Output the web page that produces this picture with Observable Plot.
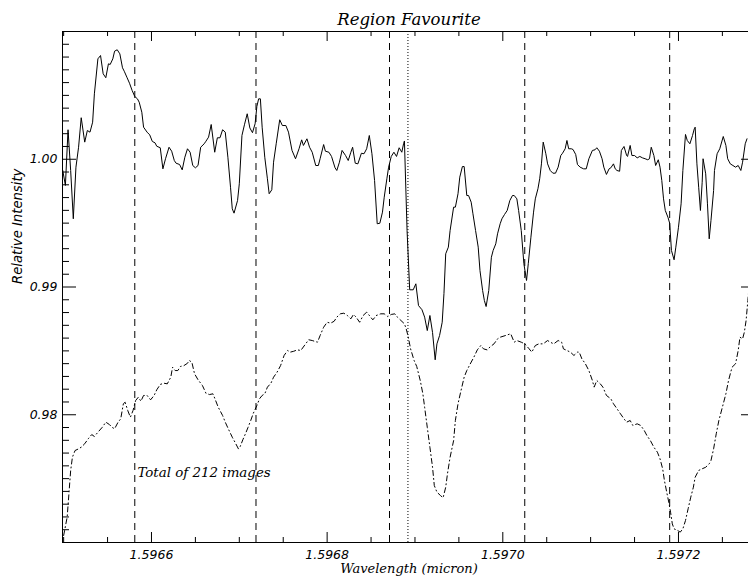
<!DOCTYPE html>
<html><head><meta charset="utf-8">
<script src="https://cdn.jsdelivr.net/npm/d3@7"></script>
<script src="https://cdn.jsdelivr.net/npm/@observablehq/plot@0.6"></script>
<style>html,body{margin:0;padding:0;background:#fff;overflow:hidden}</style>
</head><body><div id="chart"></div>
<script>
// Observed spectrum (solid line)
const solidWave = [1.596499,1.596502,1.596505,1.596508,1.596511,1.596514,1.596517,1.596520,1.596524,1.596527,1.596530,1.596533,1.596535,1.596539,1.596542,1.596545,1.596548,1.596551,1.596553,1.596556,1.596558,1.596561,1.596564,1.596567,1.596569,1.596572,1.596575,1.596578,1.596581,1.596584,1.596586,1.596589,1.596591,1.596595,1.596598,1.596601,1.596604,1.596606,1.596610,1.596613,1.596616,1.596620,1.596623,1.596626,1.596628,1.596632,1.596635,1.596638,1.596641,1.596644,1.596647,1.596650,1.596653,1.596656,1.596660,1.596662,1.596665,1.596668,1.596672,1.596675,1.596678,1.596681,1.596684,1.596687,1.596690,1.596692,1.596694,1.596698,1.596700,1.596703,1.596706,1.596709,1.596712,1.596715,1.596718,1.596720,1.596722,1.596724,1.596726,1.596729,1.596732,1.596734,1.596737,1.596739,1.596742,1.596746,1.596749,1.596753,1.596756,1.596760,1.596764,1.596768,1.596771,1.596773,1.596777,1.596780,1.596783,1.596787,1.596790,1.596792,1.596796,1.596798,1.596802,1.596805,1.596809,1.596811,1.596814,1.596817,1.596821,1.596824,1.596827,1.596829,1.596832,1.596835,1.596839,1.596842,1.596845,1.596848,1.596851,1.596854,1.596857,1.596860,1.596863,1.596865,1.596868,1.596870,1.596873,1.596876,1.596879,1.596882,1.596885,1.596887,1.596888,1.596891,1.596894,1.596898,1.596901,1.596904,1.596908,1.596911,1.596914,1.596917,1.596920,1.596923,1.596925,1.596928,1.596931,1.596933,1.596935,1.596938,1.596940,1.596944,1.596946,1.596949,1.596951,1.596954,1.596956,1.596959,1.596961,1.596964,1.596966,1.596969,1.596972,1.596974,1.596977,1.596979,1.596981,1.596984,1.596987,1.596989,1.596992,1.596994,1.596997,1.596999,1.597002,1.597005,1.597008,1.597011,1.597013,1.597016,1.597018,1.597021,1.597024,1.597027,1.597029,1.597032,1.597035,1.597037,1.597040,1.597042,1.597044,1.597046,1.597049,1.597051,1.597054,1.597057,1.597060,1.597063,1.597066,1.597068,1.597071,1.597073,1.597075,1.597078,1.597080,1.597083,1.597085,1.597088,1.597092,1.597095,1.597098,1.597102,1.597105,1.597107,1.597110,1.597113,1.597115,1.597118,1.597121,1.597123,1.597126,1.597128,1.597130,1.597133,1.597135,1.597138,1.597141,1.597142,1.597145,1.597147,1.597150,1.597153,1.597156,1.597159,1.597162,1.597165,1.597167,1.597169,1.597172,1.597174,1.597177,1.597179,1.597181,1.597183,1.597185,1.597188,1.597190,1.597192,1.597195,1.597197,1.597200,1.597203,1.597205,1.597208,1.597210,1.597213,1.597216,1.597218,1.597219,1.597221,1.597223,1.597225,1.597227,1.597228,1.597231,1.597233,1.597235,1.597237,1.597240,1.597241,1.597244,1.597247,1.597251,1.597254,1.597256,1.597259,1.597262,1.597265,1.597268,1.597271,1.597273,1.597276,1.597278];
const solidInten = [0.99912,0.99795,1.00231,0.99912,0.99534,0.99938,1.00094,1.00325,1.00134,1.00225,1.00212,1.00290,1.00512,1.00786,1.00812,1.00669,1.00638,1.00747,1.00742,1.00786,1.00846,1.00857,1.00825,1.00716,1.00689,1.00642,1.00595,1.00538,1.00491,1.00473,1.00447,1.00368,1.00251,1.00212,1.00191,1.00139,1.00129,1.00102,1.00090,0.99925,1.00004,1.00094,1.00063,0.99990,0.99969,0.99959,0.99917,1.00016,1.00082,1.00055,0.99951,0.99933,0.99951,1.00094,1.00121,1.00141,1.00173,1.00272,1.00055,1.00168,1.00168,1.00231,1.00212,1.00016,0.99781,0.99612,0.99578,0.99677,0.99808,1.00186,1.00274,1.00356,1.00245,1.00208,1.00278,1.00413,1.00473,1.00473,1.00251,1.00016,0.99847,0.99730,0.99761,0.99977,1.00121,1.00309,1.00264,1.00264,1.00212,1.00069,1.00004,1.00082,1.00152,1.00108,1.00160,1.00094,1.00055,0.99951,0.99951,1.00004,1.00115,1.00063,1.00055,1.00022,0.99933,0.99912,0.99977,1.00069,1.00029,0.99990,1.00055,1.00094,0.99969,0.99964,1.00047,1.00043,1.00082,1.00186,1.00043,0.99834,0.99495,0.99499,0.99586,0.99703,0.99847,0.99938,1.00022,1.00055,1.00022,1.00090,1.00055,1.00121,1.00143,0.99442,0.98978,0.98978,0.99025,0.98855,0.98822,0.98764,0.98659,0.98777,0.98644,0.98430,0.98555,0.98620,0.98724,0.98949,0.99260,0.99312,0.99442,0.99625,0.99625,0.99730,0.99860,0.99943,0.99943,0.99716,0.99716,0.99664,0.99573,0.99442,0.99312,0.99129,0.98973,0.98894,0.98847,0.98973,0.99233,0.99286,0.99338,0.99416,0.99495,0.99534,0.99568,0.99599,0.99677,0.99716,0.99716,0.99690,0.99599,0.99442,0.99182,0.99051,0.99182,0.99390,0.99586,0.99690,0.99769,0.99847,0.99964,1.00134,1.00043,0.99964,0.99912,0.99891,0.99891,0.99938,1.00029,1.00047,1.00082,1.00147,1.00082,1.00082,1.00076,1.00037,0.99959,0.99938,0.99925,0.99925,1.00004,1.00069,1.00074,1.00090,1.00063,1.00004,0.99938,0.99881,0.99925,0.99933,0.99964,0.99925,0.99912,0.99906,1.00069,1.00100,1.00029,1.00022,1.00108,1.00029,1.00029,1.00011,1.00022,1.00011,1.00004,0.99996,1.00004,1.00094,1.00029,0.99951,0.99996,0.99938,0.99834,0.99690,0.99599,0.99546,0.99499,0.99286,0.99213,0.99312,0.99468,0.99651,0.99912,1.00194,1.00147,1.00121,1.00186,1.00238,1.00251,0.99964,0.99781,0.99599,0.99820,1.00004,0.99886,0.99651,0.99377,0.99521,0.99755,0.99912,1.00043,1.00082,1.00178,1.00108,1.00004,0.99964,0.99951,0.99938,0.99951,0.99912,0.99977,1.00121,1.00160];
// Mean spectrum (dash-dot line)
const meanWave = [1.596500,1.596504,1.596506,1.596508,1.596510,1.596513,1.596517,1.596520,1.596524,1.596528,1.596532,1.596535,1.596539,1.596544,1.596548,1.596552,1.596555,1.596558,1.596562,1.596565,1.596568,1.596570,1.596573,1.596576,1.596579,1.596582,1.596585,1.596588,1.596591,1.596595,1.596599,1.596603,1.596606,1.596610,1.596614,1.596618,1.596622,1.596624,1.596627,1.596630,1.596633,1.596637,1.596641,1.596643,1.596646,1.596649,1.596653,1.596658,1.596662,1.596666,1.596670,1.596673,1.596676,1.596681,1.596684,1.596688,1.596692,1.596696,1.596699,1.596701,1.596704,1.596707,1.596710,1.596713,1.596716,1.596720,1.596723,1.596726,1.596729,1.596732,1.596736,1.596739,1.596743,1.596747,1.596751,1.596755,1.596758,1.596762,1.596766,1.596770,1.596775,1.596779,1.596783,1.596789,1.596792,1.596796,1.596800,1.596804,1.596808,1.596811,1.596815,1.596819,1.596823,1.596827,1.596830,1.596833,1.596837,1.596841,1.596845,1.596849,1.596852,1.596856,1.596861,1.596865,1.596869,1.596873,1.596877,1.596880,1.596884,1.596888,1.596890,1.596892,1.596895,1.596899,1.596902,1.596906,1.596909,1.596911,1.596914,1.596917,1.596920,1.596922,1.596925,1.596929,1.596932,1.596935,1.596937,1.596940,1.596944,1.596946,1.596949,1.596952,1.596956,1.596959,1.596963,1.596967,1.596971,1.596975,1.596978,1.596982,1.596986,1.596990,1.596994,1.596997,1.597003,1.597009,1.597013,1.597016,1.597021,1.597025,1.597030,1.597033,1.597037,1.597041,1.597046,1.597051,1.597054,1.597058,1.597063,1.597067,1.597069,1.597073,1.597077,1.597081,1.597085,1.597087,1.597090,1.597094,1.597098,1.597102,1.597104,1.597107,1.597111,1.597114,1.597118,1.597123,1.597126,1.597130,1.597134,1.597138,1.597141,1.597145,1.597148,1.597153,1.597157,1.597161,1.597164,1.597168,1.597172,1.597176,1.597179,1.597182,1.597184,1.597187,1.597189,1.597191,1.597193,1.597195,1.597199,1.597202,1.597205,1.597208,1.597211,1.597214,1.597217,1.597219,1.597223,1.597227,1.597231,1.597235,1.597237,1.597240,1.597243,1.597246,1.597250,1.597254,1.597257,1.597261,1.597265,1.597268,1.597270,1.597273,1.597275,1.597277,1.597279,1.597280];
const meanInten = [0.97055,0.97198,0.97381,0.97564,0.97668,0.97720,0.97733,0.97746,0.97773,0.97812,0.97845,0.97830,0.97863,0.97902,0.97942,0.97924,0.97902,0.97890,0.97942,0.97968,0.98086,0.98098,0.98033,0.97981,0.98033,0.98112,0.98137,0.98106,0.98151,0.98151,0.98117,0.98151,0.98195,0.98237,0.98247,0.98242,0.98294,0.98372,0.98346,0.98346,0.98378,0.98385,0.98403,0.98425,0.98411,0.98321,0.98274,0.98229,0.98169,0.98158,0.98164,0.98112,0.98059,0.97994,0.97942,0.97882,0.97824,0.97773,0.97733,0.97751,0.97804,0.97851,0.97902,0.97955,0.98012,0.98072,0.98125,0.98151,0.98164,0.98216,0.98247,0.98294,0.98333,0.98385,0.98464,0.98503,0.98490,0.98497,0.98508,0.98503,0.98550,0.98587,0.98581,0.98568,0.98620,0.98685,0.98724,0.98717,0.98732,0.98764,0.98790,0.98795,0.98777,0.98751,0.98785,0.98764,0.98724,0.98777,0.98803,0.98769,0.98743,0.98777,0.98790,0.98790,0.98769,0.98785,0.98790,0.98764,0.98738,0.98712,0.98673,0.98620,0.98516,0.98425,0.98378,0.98268,0.98164,0.98059,0.97902,0.97746,0.97589,0.97446,0.97394,0.97368,0.97350,0.97433,0.97538,0.97668,0.97798,0.97955,0.98086,0.98177,0.98294,0.98346,0.98399,0.98450,0.98508,0.98542,0.98516,0.98508,0.98534,0.98555,0.98594,0.98607,0.98620,0.98634,0.98568,0.98581,0.98568,0.98555,0.98516,0.98490,0.98542,0.98555,0.98555,0.98581,0.98568,0.98555,0.98581,0.98568,0.98516,0.98503,0.98490,0.98464,0.98490,0.98490,0.98438,0.98399,0.98346,0.98268,0.98216,0.98268,0.98242,0.98216,0.98151,0.98125,0.98086,0.98047,0.98007,0.97968,0.97942,0.97955,0.97916,0.97929,0.97916,0.97877,0.97838,0.97798,0.97746,0.97707,0.97655,0.97577,0.97485,0.97381,0.97315,0.97237,0.97146,0.97107,0.97094,0.97081,0.97107,0.97172,0.97264,0.97355,0.97433,0.97511,0.97564,0.97577,0.97589,0.97616,0.97642,0.97733,0.97851,0.97955,0.98059,0.98164,0.98268,0.98372,0.98399,0.98503,0.98607,0.98594,0.98646,0.98738,0.98894,0.98973];
// Marked line positions (micron)
const dashedLines = [1.596581, 1.596719, 1.596871, 1.597025, 1.597190];
const dottedLines = [1.596892];
// Axis tick labels
const xTickValues = [1.5966, 1.5968, 1.5970, 1.5972];
const yTickValues = [0.98, 0.99, 1.00];
const titleText = "Region Favourite";
const xLabel = "Wavelength (micron)";
const yLabel = "Relative Intensity";
const noteText = "Total of 212 images";
const noteWave = 1.596584, noteInten = 0.97509;

const solid = solidWave.map((w, i) => ({w, v: solidInten[i]}));
const mean = meanWave.map((w, i) => ({w, v: meanInten[i]}));

const W = 748, H = 576, mL = 62, mR = -7, mT = 31, mB = 34;
const plotW = W - mL - mR, plotH = H - mT - mB;
const xDomain = [1.5964987, 1.5972877];
const xMinor = d3.range(0, 17).map(i => +(1.5965 + i * 0.00005).toFixed(5))
  .filter(v => v >= xDomain[0] - 1e-9 && v <= xDomain[1] && !xTickValues.some(t => Math.abs(t - v) < 1e-9));
const yMinor = d3.range(971, 1010).map(i => i / 1000).filter(v => !yTickValues.some(t => Math.abs(t - v) < 1e-9));

const serif = "DejaVu Serif";
const sans = "DejaVu Sans";

const chart = Plot.plot({
  width: W, height: H,
  marginLeft: mL, marginRight: mR, marginTop: mT, marginBottom: mB,
  x: {domain: xDomain, axis: null},
  y: {domain: [0.97, 1.01], axis: null},
  style: {fontFamily: sans, fontSize: "12px", fontStyle: "italic", background: "white", color: "black", overflow: "hidden"},
  marks: [
    Plot.ruleX(dashedLines, {x: d => d, stroke: "black", strokeWidth: 1, strokeDasharray: "7,5"}),
    Plot.ruleX(dottedLines, {x: d => d, stroke: "black", strokeWidth: 1, strokeDasharray: "1,2"}),
    Plot.line(solid, {x: "w", y: "v", stroke: "black", strokeWidth: 1}),
    Plot.line(mean, {x: "w", y: "v", stroke: "black", strokeWidth: 1, strokeDasharray: "5,3,1,3"}),
    Plot.frame({stroke: "black", strokeWidth: 1}),
    Plot.tickX(xTickValues, {x: d => d, insetTop: plotH - 10, stroke: "black"}),
    Plot.tickX(xMinor, {x: d => d, insetTop: plotH - 5, stroke: "black"}),
    Plot.tickX(xTickValues, {x: d => d, insetBottom: plotH - 10, stroke: "black"}),
    Plot.tickX(xMinor, {x: d => d, insetBottom: plotH - 5, stroke: "black"}),
    Plot.tickY(yTickValues, {y: d => d, insetRight: plotW - 14, stroke: "black"}),
    Plot.tickY(yMinor, {y: d => d, insetRight: plotW - 7, stroke: "black"}),
    Plot.tickY(yTickValues, {y: d => d, insetLeft: plotW - 14, stroke: "black"}),
    Plot.tickY(yMinor, {y: d => d, insetLeft: plotW - 7, stroke: "black"}),
    Plot.axisX({ticks: xTickValues, tickSize: 0, tickPadding: 8, tickFormat: d3.format(".4f"), label: null, fontFamily: sans, fontStyle: "italic", fontSize: 12.5}),
    Plot.axisY({ticks: yTickValues, tickSize: 0, tickPadding: 5, tickFormat: d3.format(".2f"), label: null, fontFamily: sans, fontStyle: "italic", fontSize: 12.5}),
    Plot.text([titleText], {text: d => d, frameAnchor: "top", lineAnchor: "bottom", dy: -7, fontFamily: serif, fontStyle: "italic", fontSize: 16.5}),
    Plot.text([xLabel], {text: d => d, frameAnchor: "bottom", lineAnchor: "bottom", dy: 30, fontFamily: serif, fontStyle: "italic", fontSize: 13}),
    Plot.text([yLabel], {text: d => d, frameAnchor: "left", rotate: -90, dx: -45, dy: -3, fontFamily: sans, fontStyle: "italic", fontSize: 13.2}),
    Plot.text([noteText], {text: d => d, x: () => noteWave, y: () => noteInten, textAnchor: "start", lineAnchor: "bottom", fontFamily: serif, fontStyle: "italic", fontSize: 13.4})
  ]
});
document.getElementById("chart").appendChild(chart);
</script>
</body></html>
